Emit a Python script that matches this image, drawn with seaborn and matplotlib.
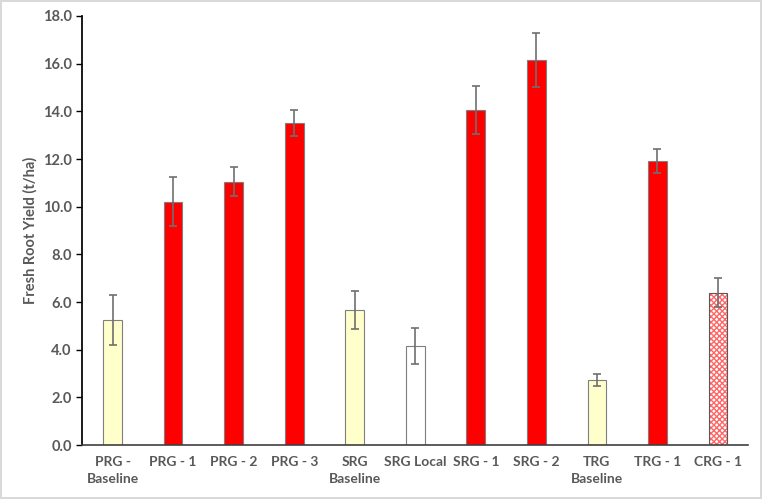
import matplotlib.pyplot as plt
from matplotlib.patches import Rectangle
import seaborn as sns
import pandas as pd

sns.set_theme(style="ticks")
plt.rcParams['font.family'] = ['Lato', 'DejaVu Sans']
plt.rcParams['hatch.linewidth'] = 1.0

# 数据
categories = ['PRG -\nBaseline', 'PRG - 1', 'PRG - 2', 'PRG - 3', 'SRG\nBaseline',
              'SRG Local', 'SRG - 1', 'SRG - 2', 'TRG\nBaseline', 'TRG - 1', 'CRG - 1']
yields = [5.25, 10.2, 11.05, 13.5, 5.65, 4.15, 14.05, 16.15, 2.72, 11.9, 6.4]
errors = [1.05, 1.03, 0.6, 0.55, 0.8, 0.75, 1.0, 1.15, 0.25, 0.5, 0.6]
fill_colors = ['#FFFFCC', '#FF0000', '#FF0000', '#FF0000', '#FFFFCC',
               '#FFFFFF', '#FF0000', '#FF0000', '#FFFFCC', '#FF0000', '#FFFFFF']

df = pd.DataFrame({'cat': categories, 'yield': yields})

fig = plt.figure(figsize=(7.62, 4.99), dpi=100)
ax = fig.add_axes([0.108, 0.108, 0.874, 0.86])
fig.patch.set_edgecolor('#d9d9d9')
fig.patch.set_linewidth(1.5)

sns.barplot(data=df, x='cat', y='yield', ax=ax, width=0.31, errorbar=None)

text_color = '#595959'
for i, p in enumerate(ax.patches):
    p.set_facecolor(fill_colors[i])
    p.set_edgecolor('#7f7f7f')
    p.set_linewidth(0.8)

# CRG - 1 用红色网格填充
crg = ax.patches[-1]
crg.set_edgecolor('#FF6666')
crg.set_hatch('xxxxxx')
crg.set_linewidth(0)
bb = crg.get_bbox()
ax.add_patch(Rectangle((bb.x0, bb.y0), bb.width, bb.height, fill=False,
                       edgecolor='#595959', linewidth=0.8, zorder=3))

ax.errorbar(range(len(categories)), yields, yerr=errors, fmt='none',
            ecolor='#6f6f6f', elinewidth=1.2, capsize=3, capthick=1.2, zorder=4)

ax.set_xlim(-0.5, len(categories) - 0.5)
ax.set_ylim(0, 18)
ax.set_yticks([0, 2, 4, 6, 8, 10, 12, 14, 16, 18])
ax.set_yticklabels([f'{v:.1f}' for v in ax.get_yticks()])
ax.set_xlabel('')
ax.set_ylabel('Fresh Root Yield (t/ha)', fontsize=10.5, fontweight='bold', color=text_color)

ax.tick_params(axis='y', length=4, width=1, colors='black', labelcolor=text_color, labelsize=10.5)
ax.tick_params(axis='x', length=0, labelcolor=text_color, labelsize=10, pad=8)
for lab in ax.get_xticklabels() + ax.get_yticklabels():
    lab.set_fontweight('bold')
for lab in ax.get_xticklabels():
    lab.set_linespacing(1.45)

sns.despine(ax=ax)
ax.spines['left'].set_color('black')
ax.spines['bottom'].set_color('#404040')
ax.spines['bottom'].set_linewidth(1.2)

plt.savefig('out.png', dpi=100)
plt.close()
